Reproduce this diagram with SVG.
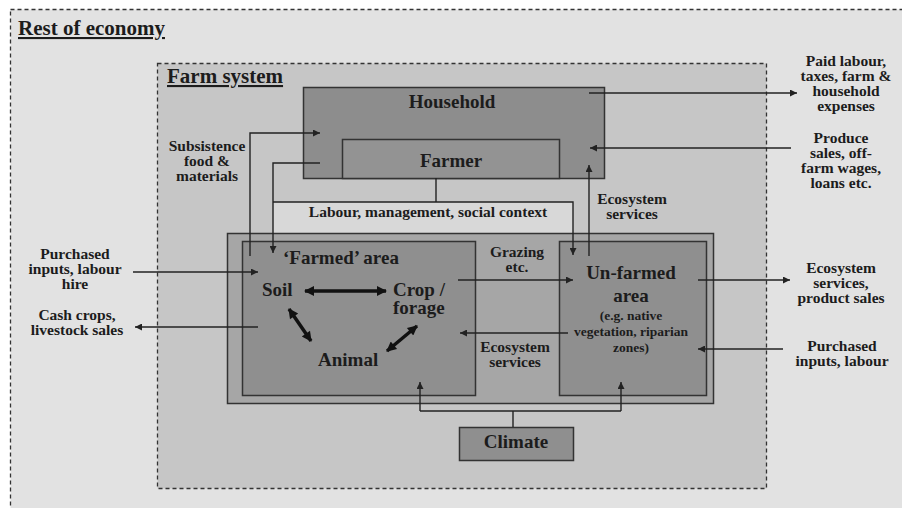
<svg xmlns="http://www.w3.org/2000/svg" width="902" height="508" viewBox="0 0 902 508">
<style>
  text { font-family: "Liberation Serif", "Times New Roman", serif; font-weight: bold; fill: #1c1c1c; }
  .lbl { font-size: 15.5px; text-anchor: middle; }
  .ttl { font-size: 19px; }
  .mid { text-anchor: middle; }
  .small { font-size: 13.5px; text-anchor: middle; }
  .box { stroke: #333; stroke-width: 1.5; }
  .dash { stroke: #333; stroke-width: 1.3; stroke-dasharray: 4 3; }
  .con { fill: none; stroke: #222; stroke-width: 1.4; }
  .arr { marker-end: url(#ah); }
  .thick { fill: none; stroke: #111; stroke-width: 3.5; marker-end: url(#bh); marker-start: url(#bh); }
</style>
<defs>
  <marker id="ah" viewBox="0 0 10 10" refX="10" refY="5" markerWidth="9" markerHeight="7" orient="auto" markerUnits="userSpaceOnUse">
    <path d="M0,0 L10,5 L0,10 z" fill="#222"/>
  </marker>
  <marker id="bh" viewBox="0 0 10 10" refX="9" refY="5" markerWidth="12" markerHeight="10" orient="auto-start-reverse" markerUnits="userSpaceOnUse">
    <path d="M0,0 L10,5 L0,10 z" fill="#111"/>
  </marker>
</defs>

<rect x="0" y="0" width="902" height="508" fill="#ffffff"/>

<g id="rest-of-economy">
  <rect class="dash" x="10.5" y="9.5" width="900" height="510" fill="#e2e2e2"/>
  <text x="18" y="35" font-size="21" text-decoration="underline">Rest of economy</text>
</g>

<g id="farm-system">
  <rect class="dash" x="157.5" y="63.5" width="609" height="425" fill="#c6c6c6"/>
  <text x="167" y="83" font-size="21" text-decoration="underline">Farm system</text>
</g>

<g id="household">
  <rect class="box" x="303.5" y="87.5" width="301" height="91" fill="#8d8d8d"/>
  <text class="ttl mid" x="452" y="108">Household</text>
</g>

<g id="farmer">
  <rect class="box" x="342.5" y="139.5" width="217" height="39" fill="#939393"/>
  <text class="ttl mid" x="451" y="167">Farmer</text>
</g>

<g id="labour-label">
  <rect x="273" y="202" width="300" height="31" fill="#d8d8d8"/>
  <text class="lbl" x="428" y="217" font-size="16">Labour, management, social context</text>
</g>

<g id="land">
  <rect class="box" x="227.5" y="233.5" width="486" height="170" fill="#a6a6a6"/>
</g>

<g id="farmed-area">
  <rect class="box" x="242.5" y="241.5" width="233" height="154" fill="#8f8f8f"/>
  <text class="ttl" x="283" y="264">‘Farmed’ area</text>
  <text class="ttl" x="262" y="296">Soil</text>
  <text class="ttl" x="393" y="296">Crop /</text>
  <text class="ttl" x="393" y="314">forage</text>
  <text class="ttl" x="318" y="366">Animal</text>
</g>

<g id="unfarmed-area">
  <rect class="box" x="559.5" y="241.5" width="147" height="154" fill="#8f8f8f"/>
  <text class="ttl mid" x="631" y="279">Un-farmed</text>
  <text class="ttl mid" x="631" y="302">area</text>
  <text class="small" x="631" y="320">(e.g. native</text>
  <text class="small" x="631" y="336">vegetation, riparian</text>
  <text class="small" x="631" y="352">zones)</text>
</g>

<g id="climate">
  <rect class="box" x="459.5" y="427.5" width="114" height="33" fill="#8f8f8f"/>
  <text class="ttl mid" x="516" y="448">Climate</text>
</g>

<g id="labels">
  <text class="lbl" x="207" y="151">Subsistence</text>
  <text class="lbl" x="207" y="166">food &amp;</text>
  <text class="lbl" x="207" y="181">materials</text>

  <text class="lbl" x="75" y="259">Purchased</text>
  <text class="lbl" x="75" y="274">inputs, labour</text>
  <text class="lbl" x="75" y="289">hire</text>

  <text class="lbl" x="77" y="320">Cash crops,</text>
  <text class="lbl" x="77" y="335">livestock sales</text>

  <text class="lbl" x="632" y="204">Ecosystem</text>
  <text class="lbl" x="632" y="219">services</text>

  <text class="lbl" x="517" y="257">Grazing</text>
  <text class="lbl" x="517" y="272">etc.</text>

  <text class="lbl" x="515" y="352">Ecosystem</text>
  <text class="lbl" x="515" y="367">services</text>

  <text class="lbl" x="846" y="66">Paid labour,</text>
  <text class="lbl" x="846" y="81">taxes, farm &amp;</text>
  <text class="lbl" x="846" y="96">household</text>
  <text class="lbl" x="846" y="111">expenses</text>

  <text class="lbl" x="841" y="143">Produce</text>
  <text class="lbl" x="841" y="158">sales, off-</text>
  <text class="lbl" x="841" y="173">farm wages,</text>
  <text class="lbl" x="841" y="188">loans etc.</text>

  <text class="lbl" x="841" y="273">Ecosystem</text>
  <text class="lbl" x="841" y="288">services,</text>
  <text class="lbl" x="841" y="303">product sales</text>

  <text class="lbl" x="842" y="351">Purchased</text>
  <text class="lbl" x="842" y="366">inputs, labour</text>
</g>

<g id="connectors">
  <path class="con arr" d="M250,256 V133 H320"/>
  <path class="con arr" d="M320,163 H273 V253"/>
  <path class="con" d="M436,178 V202"/>
  <path class="con arr" d="M273,202 H573 V255"/>
  <path class="con arr" d="M589,256 V165"/>
  <path class="con arr" d="M589,93 H797"/>
  <path class="con arr" d="M791,148 H590"/>
  <path class="con arr" d="M133,272 H258"/>
  <path class="con arr" d="M258,327 H135"/>
  <path class="con arr" d="M458,280 H573"/>
  <path class="con arr" d="M568,333 H460"/>
  <path class="con arr" d="M698,280 H790"/>
  <path class="con arr" d="M783,349 H698"/>
  <path class="con" d="M513,427 V411"/>
  <path class="con" d="M420,411 H621"/>
  <path class="con arr" d="M420,411 V382"/>
  <path class="con arr" d="M621,411 V382"/>
  <path class="thick" d="M305,291 H386"/>
  <path class="thick" d="M289,309 L311,341"/>
  <path class="thick" d="M417,326 L387,351"/>
</g>
</svg>
